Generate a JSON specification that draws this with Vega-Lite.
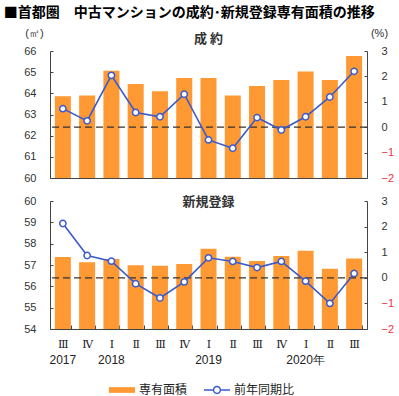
{
  "$schema": "https://vega.github.io/schema/vega-lite/v6.json",
  "padding": {"left": 3, "top": 6, "right": 5, "bottom": 2},
  "title": {
    "text": "■首都圏　中古マンションの成約･新規登録専有面積の推移",
    "anchor": "start",
    "dx": -20,
    "fontSize": 14,
    "fontWeight": "bold",
    "font": "Noto Sans CJK JP",
    "color": "#000",
    "offset": 7
  },
  "datasets": {
    "seiyaku": [
      {"period": "2017-Ⅲ", "area": 63.86, "yoy": 0.73},
      {"period": "2017-Ⅳ", "area": 63.90, "yoy": 0.25},
      {"period": "2018-Ⅰ", "area": 65.07, "yoy": 2.04},
      {"period": "2018-Ⅱ", "area": 64.44, "yoy": 0.58},
      {"period": "2018-Ⅲ", "area": 64.10, "yoy": 0.41},
      {"period": "2018-Ⅳ", "area": 64.72, "yoy": 1.30},
      {"period": "2019-Ⅰ", "area": 64.72, "yoy": -0.50},
      {"period": "2019-Ⅱ", "area": 63.90, "yoy": -0.83},
      {"period": "2019-Ⅲ", "area": 64.35, "yoy": 0.38},
      {"period": "2019-Ⅳ", "area": 64.63, "yoy": -0.11},
      {"period": "2020-Ⅰ", "area": 65.03, "yoy": 0.41},
      {"period": "2020-Ⅱ", "area": 64.63, "yoy": 1.19},
      {"period": "2020-Ⅲ", "area": 65.76, "yoy": 2.20}
    ],
    "shinki": [
      {"period": "2017-Ⅲ", "area": 57.37, "yoy": 2.12},
      {"period": "2017-Ⅳ", "area": 57.13, "yoy": 0.87},
      {"period": "2018-Ⅰ", "area": 57.28, "yoy": 0.65},
      {"period": "2018-Ⅱ", "area": 56.99, "yoy": -0.23},
      {"period": "2018-Ⅲ", "area": 56.96, "yoy": -0.79},
      {"period": "2018-Ⅳ", "area": 57.05, "yoy": -0.16},
      {"period": "2019-Ⅰ", "area": 57.76, "yoy": 0.78},
      {"period": "2019-Ⅱ", "area": 57.39, "yoy": 0.64},
      {"period": "2019-Ⅲ", "area": 57.19, "yoy": 0.40},
      {"period": "2019-Ⅳ", "area": 57.42, "yoy": 0.64},
      {"period": "2020-Ⅰ", "area": 57.67, "yoy": -0.13},
      {"period": "2020-Ⅱ", "area": 56.82, "yoy": -1.00},
      {"period": "2020-Ⅲ", "area": 57.30, "yoy": 0.17}
    ],
    "baseline": [{"zero": 0}]
  },
  "vconcat": [
    {
      "width": 317,
      "height": 127,
      "data": {"name": "seiyaku"},
      "title": {"text": "成 約", "offset": -19},
      "layer": [
        {
          "mark": {"type": "bar", "clip": true},
          "encoding": {
            "x": {
              "field": "period", "type": "ordinal", "sort": null,
              "scale": {"paddingInner": 0.34, "paddingOuter": 0.2},
              "axis": {"title": null, "labels": false, "ticks": false}
            },
            "y": {
              "field": "area", "type": "quantitative",
              "scale": {"domain": [60, 66], "zero": false, "nice": false},
              "axis": {
                "title": "(㎡)", "titleAngle": 0, "titleX": -16, "titleY": -18,
                "titleAlign": "center", "titleBaseline": "middle",
                "values": [60, 61, 62, 63, 64, 65, 66],
                "tickSize": -3, "labelPadding": 17
              }
            },
            "color": {
              "datum": "専有面積", "type": "nominal",
              "legend": {
                "orient": "none",
                "legendX": 59,
                "legendY": 326,
                "direction": "horizontal",
                "symbolSize": 676,
                "encode": {
                  "symbols": {
                    "update": {
                      "shape": {"signal": "datum.value === '専有面積' ? 'M-1,-0.22H1V0.22H-1Z' : 'M-1,-0.055H-0.31V0.055H-1Z M0.31,-0.055H1V0.055H0.31Z M-0.32,0A0.32,0.32 0 1,0 0.32,0A0.32,0.32 0 1,0 -0.32,0Z M-0.21,0A0.21,0.21 0 1,1 0.21,0A0.21,0.21 0 1,1 -0.21,0Z'"},
                      "strokeWidth": {"value": 0},
                      "opacity": {"value": 1}
                    }
                  }
                }
              }
            }
          }
        },
        {
          "layer": [
            {
              "data": {"name": "baseline"},
              "mark": {"type": "rule", "strokeDash": [7, 4], "color": "#333", "strokeWidth": 1.2},
              "encoding": {"y": {"field": "zero", "type": "quantitative"}}
            },
            {
              "mark": {"type": "line", "strokeWidth": 1.6},
              "encoding": {
                "x": {"field": "period", "type": "ordinal", "sort": null, "axis": {"title": null, "labels": false, "ticks": false}},
                "y": {"field": "yoy", "type": "quantitative"},
                "color": {"datum": "前年同期比", "type": "nominal"}
              }
            },
            {
              "mark": {"type": "point", "shape": "circle", "filled": true, "fill": "white", "stroke": "#3A5BCB", "strokeWidth": 1.5, "size": 40, "opacity": 1},
              "encoding": {
                "x": {"field": "period", "type": "ordinal", "sort": null, "axis": {"title": null, "labels": false, "ticks": false}},
                "y": {"field": "yoy", "type": "quantitative"}
              }
            }
          ],
          "encoding": {
            "y": {
              "type": "quantitative",
              "scale": {"domain": [-2, 3], "nice": false, "zero": false},
              "axis": {
                "orient": "right",
                "title": "(%)", "titleAngle": 0, "titleX": 12, "titleY": -18,
                "titleAlign": "center", "titleBaseline": "middle",
                "values": [-2, -1, 0, 1, 2, 3],
                "tickSize": -3, "labelPadding": 17,
                "labelColor": {"condition": {"test": "datum.value < 0", "value": "#F03040"}, "value": "#333"}
              }
            }
          }
        }
      ],
      "resolve": {"scale": {"y": "independent"}}
    },
    {
      "width": 317,
      "height": 128,
      "data": {"name": "shinki"},
      "title": {"text": "新規登録", "offset": -14},
      "layer": [
        {
          "mark": {"type": "bar", "clip": true},
          "encoding": {
            "x": {
              "field": "period", "type": "ordinal", "sort": null,
              "scale": {"paddingInner": 0.34, "paddingOuter": 0.2},
              "axis": {
                "title": null, "labelAngle": 0, "orient": "bottom",
                "labelExpr": "split(datum.label, '-')[1]",
                "labelFont": "DejaVu Serif", "labelFontSize": 11, "labelColor": "#222",
                "tickBand": "extent", "tickSize": -4, "labelPadding": 13
              }
            },
            "y": {
              "field": "area", "type": "quantitative",
              "scale": {"domain": [54, 60], "zero": false, "nice": false},
              "axis": {
                "title": null,
                "values": [54, 55, 56, 57, 58, 59, 60],
                "tickSize": -3, "labelPadding": 17
              }
            },
            "color": {"datum": "専有面積", "type": "nominal"}
          }
        },
        {
          "layer": [
            {
              "data": {"name": "baseline"},
              "mark": {"type": "rule", "strokeDash": [7, 4], "color": "#333", "strokeWidth": 1.2},
              "encoding": {"y": {"field": "zero", "type": "quantitative"}}
            },
            {
              "mark": {"type": "line", "strokeWidth": 1.6},
              "encoding": {
                "x": {
                  "field": "period", "type": "ordinal", "sort": null,
                  "axis": {
                    "title": null, "labelAngle": 0, "orient": "bottom", "domain": false, "ticks": false,
                    "labelExpr": "datum.label == '2017-Ⅲ' ? '2017' : datum.label == '2018-Ⅰ' ? '2018' : datum.label == '2019-Ⅰ' ? '2019' : datum.label == '2020-Ⅰ' ? '2020年' : ''",
                    "labelFont": "Liberation Sans", "labelFontSize": 12, "labelColor": "#222",
                    "labelPadding": 25
                  }
                },
                "y": {"field": "yoy", "type": "quantitative"},
                "color": {"datum": "前年同期比", "type": "nominal"}
              }
            },
            {
              "mark": {"type": "point", "shape": "circle", "filled": true, "fill": "white", "stroke": "#3A5BCB", "strokeWidth": 1.5, "size": 40, "opacity": 1},
              "encoding": {
                "x": {"field": "period", "type": "ordinal", "sort": null},
                "y": {"field": "yoy", "type": "quantitative"}
              }
            }
          ],
          "encoding": {
            "y": {
              "type": "quantitative",
              "scale": {"domain": [-2, 3], "nice": false, "zero": false},
              "axis": {
                "orient": "right", "title": null,
                "values": [-2, -1, 0, 1, 2, 3],
                "tickSize": -3, "labelPadding": 17,
                "labelColor": {"condition": {"test": "datum.value < 0", "value": "#F03040"}, "value": "#333"}
              }
            }
          }
        }
      ],
      "resolve": {"scale": {"y": "independent"}, "axis": {"x": "independent"}}
    }
  ],
  "spacing": 12,
  "resolve": {"scale": {"color": "shared"}, "legend": {"color": "shared"}},
  "config": {
    "view": {"stroke": null},
    "font": "Noto Sans CJK JP",
    "title": {"fontSize": 13, "fontWeight": "bold", "color": "#333", "font": "Noto Sans CJK JP"},
    "axis": {
      "grid": false,
      "labelFont": "Liberation Sans",
      "labelFontSize": 11,
      "labelColor": "#333",
      "domainColor": "#444",
      "tickColor": "#444",
      "titleFont": "Liberation Sans",
      "titleFontSize": 11,
      "titleFontWeight": "normal",
      "titleColor": "#333"
    },
    "range": {"category": ["#FF9933", "#3A5BCB"]},
    "legend": {
      "title": null,
      "symbolSize": 676,
      "labelFont": "Noto Sans CJK JP",
      "labelFontSize": 12,
      "labelColor": "#222",
      "columnPadding": 16,
      "labelOffset": 4
    }
  }
}
